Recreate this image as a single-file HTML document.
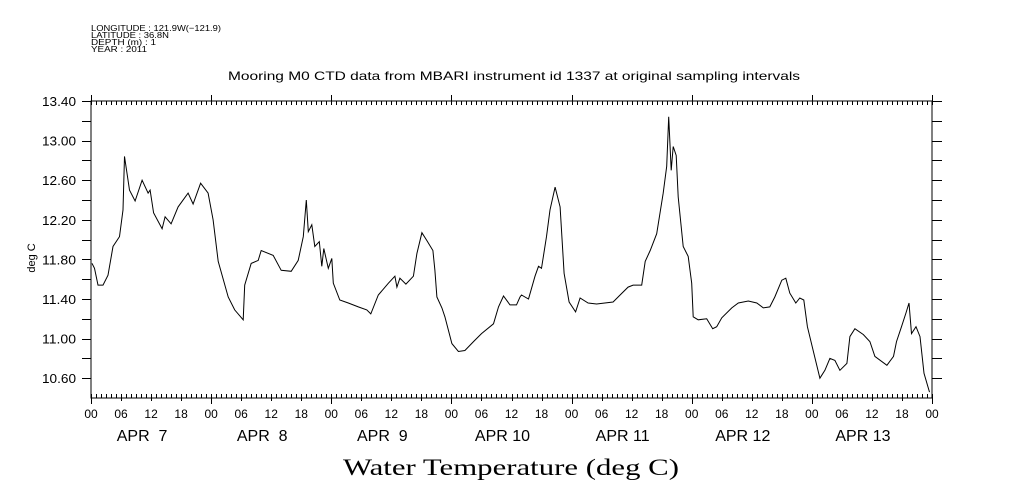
<!DOCTYPE html>
<html><head><meta charset="utf-8"><style>
html,body{margin:0;padding:0;background:#fff;}
svg{display:block;}
text{font-family:"Liberation Sans",sans-serif;fill:#000;}
</style></head><body>
<svg id="chart" width="1009" height="504" viewBox="0 0 1009 504" xmlns="http://www.w3.org/2000/svg">
<g font-size="8.5">
<text x="91" y="31" textLength="130" lengthAdjust="spacingAndGlyphs">LONGITUDE : 121.9W(−121.9)</text>
<text x="91" y="38" textLength="78" lengthAdjust="spacingAndGlyphs">LATITUDE : 36.8N</text>
<text x="91" y="45" textLength="65" lengthAdjust="spacingAndGlyphs">DEPTH (m) : 1</text>
<text x="91" y="52" textLength="56" lengthAdjust="spacingAndGlyphs">YEAR : 2011</text>
</g>
<text x="228" y="80" textLength="572" lengthAdjust="spacingAndGlyphs" font-size="12">Mooring M0 CTD data from MBARI instrument id 1337 at original sampling intervals</text>
<text transform="translate(35,258) rotate(-90)" text-anchor="middle" font-size="11">deg C</text>
<text x="343" y="475" textLength="336" lengthAdjust="spacingAndGlyphs" font-size="23" style="font-family:'Liberation Serif',serif">Water Temperature (deg C)</text>
<g id="axes"></g>
<path id="series" fill="none" stroke="#000" stroke-width="1"/>
</svg>
<script>
const hours = [0.2,0.7,1.4,2.4,3.4,4.4,5.7,6.4,6.7,7.7,8.8,10.2,11.4,11.8,12.5,14.2,14.8,16.0,17.4,19.4,20.4,21.9,23.4,24.4,25.4,27.4,28.7,30.4,30.7,32.0,33.4,34.0,36.4,38.0,40.0,41.4,42.4,43.0,43.4,44.1,44.7,45.6,46.1,46.5,47.4,48.1,48.4,49.7,51.4,53.4,55.1,55.9,57.4,59.4,60.7,61.1,61.7,62.9,64.4,65.1,66.1,67.1,68.3,68.7,69.1,70.1,70.7,72.1,73.4,74.7,76.4,78.0,80.4,81.4,82.4,83.7,85.0,85.7,86.0,87.4,88.7,89.4,90.0,91.0,91.7,92.7,93.7,94.5,95.5,96.8,97.7,99.3,101.0,104.3,105.7,107.3,108.3,110.0,110.7,111.7,113.0,114.3,115.0,115.4,115.9,116.3,116.9,117.3,118.3,119.3,120.0,120.3,121.3,123.0,124.2,125.0,126.0,128.0,129.3,131.3,133.0,134.3,135.6,136.6,138.0,138.8,139.6,140.8,141.6,142.4,143.1,144.3,145.6,146.6,147.6,148.6,149.6,151.0,151.6,152.6,154.3,155.6,156.6,159.0,160.3,160.9,161.9,162.8,163.4,163.9,164.8,165.6,166.4,167.5];
const temps = [11.76,11.71,11.54,11.54,11.64,11.93,12.03,12.30,12.84,12.50,12.39,12.60,12.47,12.50,12.27,12.11,12.23,12.16,12.33,12.47,12.36,12.57,12.47,12.20,11.78,11.42,11.29,11.19,11.54,11.76,11.79,11.89,11.84,11.69,11.68,11.79,12.03,12.40,12.08,12.15,11.93,11.98,11.73,11.91,11.71,11.81,11.56,11.39,11.36,11.32,11.29,11.25,11.44,11.56,11.63,11.52,11.61,11.55,11.63,11.86,12.07,11.99,11.89,11.69,11.42,11.31,11.22,10.95,10.87,10.88,10.97,11.05,11.15,11.32,11.43,11.34,11.34,11.42,11.44,11.40,11.63,11.73,11.71,12.03,12.30,12.53,12.33,11.66,11.37,11.27,11.41,11.36,11.35,11.37,11.44,11.52,11.54,11.54,11.78,11.89,12.06,12.47,12.74,13.24,12.70,12.94,12.85,12.43,11.93,11.83,11.56,11.22,11.19,11.20,11.10,11.12,11.21,11.31,11.36,11.38,11.36,11.31,11.32,11.42,11.59,11.61,11.46,11.36,11.41,11.39,11.12,10.87,10.60,10.68,10.80,10.78,10.68,10.75,11.02,11.10,11.04,10.97,10.82,10.73,10.82,10.97,11.12,11.26,11.36,11.05,11.12,11.02,10.65,10.46];
const yTickLabels = ["10.60","11.00","11.40","11.80","12.20","12.60","13.00","13.40"];
const hourLabels = ["00","06","12","18"];
const dayLabels = ["APR  7","APR  8","APR  9","APR 10","APR 11","APR 12","APR 13"];

const L=91,R=932,T=101,B=398,yMin=10.40,yMax=13.40,hMax=168;
const xs=h=>L+(h/hMax)*(R-L);
const ys=v=>B-(v-yMin)/(yMax-yMin)*(B-T);
const NS='http://www.w3.org/2000/svg';
const ax=document.getElementById('axes');
function mk(tag,attrs,parent){const e=document.createElementNS(NS,tag);for(const k in attrs)e.setAttribute(k,attrs[k]);(parent||ax).appendChild(e);return e;}
const frame=mk('rect',{x:L,y:T,width:R-L,height:B-T,fill:'none',stroke:'#000','stroke-width':1});


let d='';
for(let v=10.6;v<=13.401;v+=0.2){const y=Math.round(ys(v))+0.5;d+=`M${L-9},${y}H${L}M${R},${y}H${R+10}`;}
for(let h=0;h<=hMax;h++){const x=Math.round(xs(h))+0.5;
 if(h%24===0){d+=`M${x},${T-6}V${T+4}M${x},${B-4}V${B+6}`;}
 else if(h%6===0){d+=`M${x},${T}V${T+4}M${x},${B-4}V${B+3}`;}
 else{d+=`M${x},${T}V${T+4}M${x},${B-4}V${B}`;}}
const ticks=mk('path',{d:d,stroke:'#000','stroke-width':1,fill:'none'});


yTickLabels.forEach(s=>{const t=mk('text',{x:L-15,y:ys(parseFloat(s))+5,'text-anchor':'end','font-size':12.5,textLength:34,lengthAdjust:'spacingAndGlyphs'});t.textContent=s;
 
 });
for(let h=0;h<=hMax;h+=6){const t=mk('text',{x:xs(h),y:418,'text-anchor':'middle','font-size':12});t.textContent=hourLabels[(h/6)%4];
 
 }
dayLabels.forEach((s,i)=>{const t=mk('text',{x:xs(i*24+12)-9,y:441,'text-anchor':'middle','font-size':16});t.textContent=s;t.style.whiteSpace='pre';
 
 });
document.getElementById('series').setAttribute('d',hours.map((h,i)=>(i?'L':'M')+xs(h).toFixed(1)+','+ys(temps[i]).toFixed(1)).join(''));
</script>
</body></html>
